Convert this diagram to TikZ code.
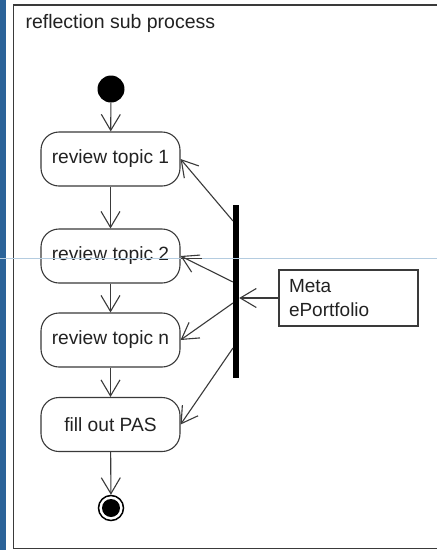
\documentclass[tikz,border=0pt]{standalone}
\usepackage{fontspec}
\setmainfont{Liberation Sans}
\usetikzlibrary{arrows.meta}
\definecolor{inkline}{HTML}{3A3A3A}
\definecolor{inktext}{HTML}{222222}
\definecolor{sidebar}{HTML}{2B6399}
\definecolor{guide}{HTML}{B4CCE0}
\tikzset{
  activity/.style={draw=inkline, line width=1.1pt, rounded corners=18pt,
    minimum width=139pt, minimum height=54pt, inner sep=0pt,
    text=inktext, font=\fontsize{19.2}{22}\selectfont},
  notebox/.style={draw=inkline, line width=1.1pt, minimum width=139pt,
    minimum height=56pt, inner sep=0pt, text=inktext, align=left,
    font=\fontsize{19}{24}\selectfont},
  flow/.style={draw=inkline, line width=1.1pt,
    -{Straight Barb[length=16pt,width=19pt,line width=1.1pt]}},
  forkbar/.style={fill=black, draw=none, minimum width=6pt,
    minimum height=173pt, inner sep=0pt},
}
\begin{document}
\begin{tikzpicture}[x=1pt,y=-1pt]
  \useasboundingbox (0,0) rectangle (437,550);
  \fill[white] (0,0) rectangle (437,550);
  % side strip and frame
  \fill[sidebar] (0,0) rectangle (6,550);
  \draw[inkline, line width=1.1pt] (460,5) -- (13.5,5) -- (13.5,548.5) -- (460,548.5);
  \node[anchor=base west, text=inktext, font=\fontsize{19.5}{22}\selectfont]
    (title) at (22,28) {reflection sub process};

  % start / end
  \node[circle, fill=black, minimum size=27pt, inner sep=0pt] (start) at (111,89) {};
  \node[circle, draw=black, line width=1.5pt, minimum size=25pt, inner sep=0pt] (stop) at (111,508) {};
  \fill[black] (stop.center) circle (9pt);

  % activities
  \node[activity] (rt1) at (110.5,159) {review topic 1};
  \node[activity] (rt2) at (110.5,256) {review topic 2};
  \node[activity] (rtn) at (110.5,340) {review topic n};
  \node[activity] (pas) at (110.5,424.5) {fill out PAS};

  % fork bar and note
  \node[forkbar] (fork) at (236,291.5) {};
  \node[notebox, text width=119pt] (meta) at (348.5,298) {Meta\\ePortfolio};

  \coordinate (f1) at (233,221);
  \coordinate (f2) at (233,282);
  \coordinate (f3) at (233,303);
  \coordinate (f4) at (233,348);

  % control flow
  \draw[flow] (start) -- (rt1);
  \draw[flow] (rt1) -- (rt2);
  \draw[flow] (rt2) -- (rtn);
  \draw[flow] (rtn) -- (pas);
  \draw[flow] (pas) -- (stop);
  \draw[flow] (meta.west) -- (fork.east |- meta.west);
  \draw[flow] (f1) -- (rt1.east);
  \draw[flow] (f2) -- (rt2.east);
  \draw[flow] (f3) -- (rtn.east);
  \draw[flow] (f4) -- (pas.east);

  % guide line
  \draw[guide, line width=0.9pt] (0,258) -- (437,258);
  \draw[inkline, line width=0.9pt] (rt2.east |- 0,258) -- (202,258);
\end{tikzpicture}
\end{document}
